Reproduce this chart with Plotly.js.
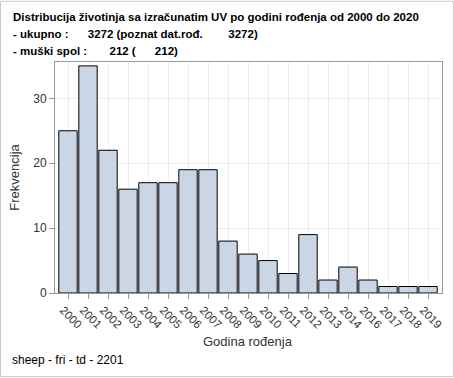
<!DOCTYPE html>
<html><head><meta charset="utf-8">
<script src="https://cdn.plot.ly/plotly-3.0.1.min.js"></script>
<style>html,body{margin:0;padding:0;background:#fff}#c{width:454px;height:378px}</style>
</head><body><div id="c"></div>
<script>
var years = ["2000","2001","2002","2003","2004","2005","2006","2007","2008","2009","2010","2011","2012","2013","2014","2016","2017","2018","2019"];
var counts = [25,35,22,16,17,17,19,19,8,6,5,3,9,2,4,2,1,1,1];
var yTicks = [0,10,20,30];
var S = "\u00A0";
function sp(n){return S.repeat(n);}
var titleLines = [
  "Distribucija životinja sa izračunatim UV po godini rođenja od 2000 do 2020",
  "- ukupno :" + sp(6) + "3272 (poznat dat.rođ." + sp(8) + "3272)",
  "- muški spol :" + sp(7) + "212 (" + sp(6) + "212)"
];
var footer = "sheep - fri - td - 2201";
var xTitle = "Godina rođenja";
var yTitle = "Frekvencija";

var trace = {
  type: "bar", x: years, y: counts,
  marker: {color: "#cad5e6", line: {color: "#000", width: 1}},
  width: 0.92, hoverinfo: "none"
};
var FONT = "Liberation Sans, Arial";
var layout = {
  width:454, height:378, paper_bgcolor:"#fff", plot_bgcolor:"#fff",
  margin:{l:55, r:12, t:61.5, b:84.5},
  showlegend:false, bargap:0,
  font:{family:FONT, color:"#333"},
  xaxis:{type:"category", range:[-0.65,18.7], tickangle:45, ticks:"outside", ticklen:5,
    tickcolor:"#999", showgrid:true, gridcolor:"#ececec", showline:true, linecolor:"#999",
    mirror:true, tickfont:{size:11.5, color:"#333"}, ticklabelshift:-5, ticklabelstandoff:0},
  yaxis:{range:[0,35.6], tickvals:yTicks, ticks:"outside", ticklen:5, tickcolor:"#999",
    showgrid:true, gridcolor:"#ececec", showline:true, linecolor:"#999", mirror:true,
    zeroline:false, tickfont:{size:12, color:"#333"},
    title:{text:yTitle, font:{size:13, color:"#333"}, standoff:10}},
  annotations:[]
};
var pw = 454-55-12, ph = 378-61.5-84.5;
function px2x(px){return (px-55)/pw;}
function py2y(py){return (378-84.5-py)/ph;}
var ys=[16,33,50];
titleLines.forEach(function(t,i){
  layout.annotations.push({text:"<b>"+t+"</b>", xref:"paper", yref:"paper",
    x:px2x(11), y:py2y(ys[i]), xanchor:"left", yanchor:"middle", showarrow:false,
    font:{family:FONT, size:11.5, color:"#000"}});
});
layout.annotations.push({text:xTitle, xref:"paper", yref:"paper", x:px2x(248), y:py2y(342),
  xanchor:"center", yanchor:"middle", showarrow:false,
  font:{family:FONT, size:13, color:"#333"}});
layout.annotations.push({text:footer, xref:"paper", yref:"paper", x:px2x(10), y:py2y(361),
  xanchor:"left", yanchor:"middle", showarrow:false,
  font:{family:FONT, size:12, color:"#000"}});
layout.shapes = [{type:"rect", xref:"paper", yref:"paper", x0:px2x(0.5), x1:px2x(453.5),
  y0:py2y(377.5), y1:py2y(0.5), line:{color:"#c8c8c8", width:1}, layer:"below"}];
Plotly.newPlot("c",[trace],layout,{staticPlot:true});
</script></body></html>
